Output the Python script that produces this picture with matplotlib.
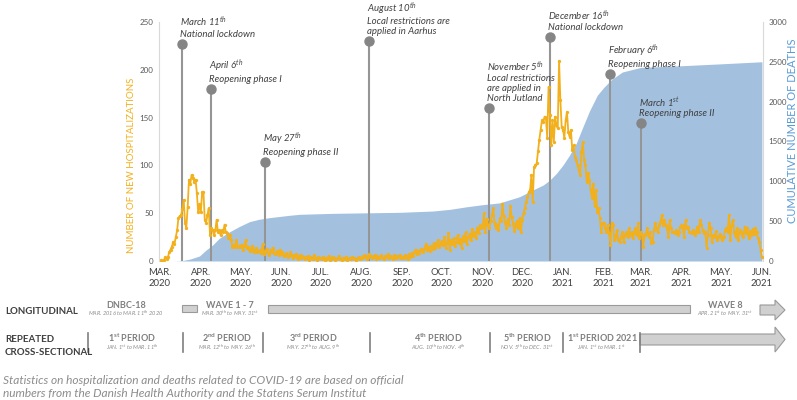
import matplotlib
matplotlib.use("Agg")
import matplotlib.pyplot as plt
import matplotlib.dates as mdates
import pandas as pd
from matplotlib.patches import Polygon, Rectangle
from matplotlib.lines import Line2D

plt.rcParams["font.family"] = ["Lato", "DejaVu Sans"]
plt.rcParams["mathtext.fontset"] = "custom"
plt.rcParams["mathtext.rm"] = "Lato"
plt.rcParams["mathtext.it"] = "Lato:italic"
plt.rcParams["mathtext.bf"] = "Lato:bold"

# daily new hospitalizations, one list per month
hosp_mar20 = [0, 1, 0, 1, 4, 2, 4, 9, 12, 15, 20, 18, 25, 32, 45, 47, 48, 54, 64, 40,
              35, 56, 85, 81, 90, 87, 83, 85, 71, 51, 60]
hosp_apr20 = [51, 72, 72, 43, 40, 48, 55, 27, 34, 32, 27, 32, 43, 30, 32, 27, 32, 30, 38, 30,
              29, 24, 27, 22, 15, 17, 15, 22, 15, 16]
hosp_may20 = [15, 17, 12, 16, 22, 14, 15, 10, 12, 16, 9, 11, 14, 9, 10, 12, 8, 18, 7, 10,
              13, 8, 6, 12, 9, 14, 7, 8, 10, 6, 12]
hosp_jun20 = [7, 9, 5, 6, 8, 4, 5, 9, 6, 3, 5, 7, 4, 2, 6, 3, 5, 4, 2, 3,
              5, 1, 4, 3, 2, 6, 3, 1, 4, 3]
hosp_jul20 = [3, 2, 4, 1, 3, 2, 5, 1, 2, 4, 3, 1, 2, 3, 5, 2, 1, 3, 2, 4,
              1, 2, 3, 2, 4, 3, 2, 1, 3, 4, 2]
hosp_aug20 = [3, 5, 4, 6, 2, 4, 7, 5, 3, 4, 6, 2, 5, 3, 4, 6, 3, 2, 5, 4,
              7, 3, 5, 4, 2, 6, 3, 5, 4, 6, 3]
hosp_sep20 = [4, 3, 6, 5, 2, 7, 4, 8, 5, 9, 12, 7, 10, 8, 13, 11, 9, 14, 18, 12,
              15, 10, 16, 13, 19, 14, 17, 22, 15, 18]
hosp_oct20 = [21, 17, 25, 14, 19, 29, 12, 22, 18, 24, 16, 20, 27, 19, 23, 14, 26, 21, 30, 18,
              25, 28, 22, 33, 26, 30, 24, 35, 29, 38, 34]
hosp_nov20 = [36, 50, 30, 44, 38, 35, 42, 48, 55, 40, 34, 38, 32, 45, 42, 60, 47, 40, 35, 44,
              38, 58, 46, 40, 31, 37, 42, 35, 45, 30]
hosp_dec20 = [43, 50, 55, 62, 67, 72, 74, 90, 62, 98, 100, 102, 115, 127, 137, 147, 145, 151, 150, 129,
              182, 153, 121, 147, 124, 151, 142, 139, 209, 168, 140]
hosp_jan21 = [137, 129, 147, 156, 135, 130, 137, 116, 121, 109, 106, 100, 95, 90, 114, 124, 106, 100, 83, 92,
              85, 74, 66, 81, 58, 74, 51, 55, 45, 30, 40]
hosp_feb21 = [40, 34, 30, 38, 29, 17, 40, 38, 22, 25, 32, 22, 20, 25, 30, 20, 27, 30, 25, 34,
              27, 30, 24, 29, 34, 27, 40, 24]
hosp_mar21 = [30, 27, 15, 27, 29, 34, 25, 30, 19, 20, 32, 40, 34, 30, 38, 41, 48, 38, 43, 38,
              34, 25, 43, 34, 30, 30, 29, 32, 27, 30, 36]
hosp_apr21 = [38, 34, 25, 43, 34, 36, 30, 30, 29, 32, 27, 30, 36, 30, 43, 38, 32, 29, 30, 14,
              27, 40, 34, 20, 27, 25, 31, 22, 25, 28]
hosp_may21 = [25, 22, 25, 32, 34, 30, 48, 22, 38, 43, 30, 25, 34, 22, 32, 30, 27, 25, 36, 29,
              34, 24, 31, 27, 33, 28, 35, 30, 24, 20, 12]
hosp_jun21 = [4]

# cumulative deaths
death_dates = ["2020-03-12", "2020-03-18", "2020-03-24", "2020-03-31", "2020-04-05", "2020-04-10",
               "2020-04-15", "2020-04-23", "2020-04-30", "2020-05-08", "2020-05-15", "2020-05-23",
               "2020-06-07", "2020-06-15", "2020-07-10", "2020-08-30", "2020-09-24", "2020-10-07",
               "2020-10-20", "2020-11-01", "2020-11-14", "2020-11-29", "2020-12-09", "2020-12-17",
               "2020-12-22", "2020-12-27", "2021-01-01", "2021-01-06", "2021-01-11", "2021-01-16",
               "2021-01-21", "2021-01-27", "2021-02-01", "2021-02-07", "2021-02-15", "2021-03-01",
               "2021-04-01", "2021-05-01", "2021-06-01"]
death_values = [0, 5, 25, 63, 138, 201, 285, 368, 431, 494, 523, 544,
                573, 586, 598, 611, 627, 648, 681, 707, 730, 807, 891, 954,
                1016, 1100, 1205, 1330, 1476, 1680, 1880, 2080, 2180, 2280, 2372, 2430,
                2451, 2475, 2501]

# events
event_dates = ["2020-03-18", "2020-04-09", "2020-05-20", "2020-08-07",
               "2020-11-06", "2020-12-22", "2021-02-06", "2021-03-01"]
event_heights = [227, 180, 104, 230, 160, 234, 196, 144]
event_labels = [
    "March 11$^{th}$\nNational lockdown",
    "April 6$^{th}$\nReopening phase I",
    "May 27$^{th}$\nReopening phase II",
    "August 10$^{th}$\nLocal restrictions are\napplied in Aarhus",
    "November 5$^{th}$\nLocal restrictions\nare applied in\nNorth Jutland",
    "December 16$^{th}$\nNational lockdown",
    "February 6$^{th}$\nReopening phase I",
    "March 1$^{st}$\nReopening phase II",
]

period_names = ["1$^{\\mathbf{st}}$ PERIOD", "2$^{\\mathbf{nd}}$ PERIOD", "3$^{\\mathbf{rd}}$ PERIOD",
                "4$^{\\mathbf{th}}$ PERIOD", "5$^{\\mathbf{th}}$ PERIOD", "1$^{\\mathbf{st}}$ PERIOD 2021"]
period_ranges = ["JAN. 1$^{st}$ to MAR. 11$^{th}$", "MAR. 12$^{th}$ to MAY. 26$^{th}$",
                 "MAY. 27$^{th}$ to AUG. 9$^{th}$", "AUG. 10$^{th}$ to NOV. 4$^{th}$",
                 "NOV. 5$^{th}$ to DEC. 31$^{st}$", "JAN. 1$^{st}$ to MAR. 1$^{st}$"]

ORANGE = "#F2B01C"
BLUE = "#A3C1DF"
W, H = 797, 400


def fx(x):
    return x / W


def fy(y):
    return 1 - y / H


hosp = (hosp_mar20 + hosp_apr20 + hosp_may20 + hosp_jun20 + hosp_jul20 + hosp_aug20 +
        hosp_sep20 + hosp_oct20 + hosp_nov20 + hosp_dec20 + hosp_jan21 + hosp_feb21 +
        hosp_mar21 + hosp_apr21 + hosp_may21 + hosp_jun21)
dates = pd.date_range("2020-03-01", periods=len(hosp), freq="D")

fig = plt.figure(figsize=(7.97, 4.0), dpi=100)
ax = fig.add_axes([fx(159), fy(261), (763 - 159) / W, (261 - 22) / H])
ax2 = ax.twinx()

ax2.fill_between(pd.to_datetime(death_dates), death_values, color=BLUE, lw=0)
ax2.set_ylim(0, 3000)
ax2.set_yticks(range(0, 3001, 500))

ax.set_zorder(ax2.get_zorder() + 1)
ax.patch.set_visible(False)

for d, h, lab in zip(pd.to_datetime(event_dates), event_heights, event_labels):
    ax.plot([d, d], [0, h], color="#959595", lw=1.5, zorder=1.5)
    ax.plot([d], [h], "o", color="#858585", ms=6.5, zorder=1.6)
    ax.annotate(lab, (d, h), xytext=(-1.5, 3.5), textcoords="offset points",
                ha="left", va="bottom", fontsize=6.9, style="italic",
                color="#404040", linespacing=1.12)

ax.plot(dates, hosp, color=ORANGE, lw=1.3, marker="o", ms=2.4, mew=0, zorder=2)
ax.set_ylim(0, 250)
ax.set_yticks(range(0, 251, 50))
ax.set_xlim(pd.Timestamp("2020-03-01") - pd.Timedelta(hours=18),
            pd.Timestamp("2021-06-01") + pd.Timedelta(hours=20))

ax.xaxis.set_major_locator(mdates.MonthLocator())
ax.xaxis.set_major_formatter(
    plt.FuncFormatter(lambda v, p: mdates.num2date(v).strftime("%b.\n%Y").upper()))

for a in (ax, ax2):
    for s in a.spines.values():
        s.set_visible(False)
ax.spines["left"].set_visible(True)
ax.spines["left"].set_color("#D9D9D9")
ax2.spines["right"].set_visible(True)
ax2.spines["right"].set_color("#D9D9D9")

ax.tick_params(axis="y", length=0, labelsize=5.8, labelcolor="#595959", pad=4)
ax2.tick_params(axis="y", length=0, labelsize=5.8, labelcolor="#595959", pad=4)
ax.tick_params(axis="x", length=0, labelsize=6.8, labelcolor="#404040", pad=5)
for t in ax.get_xticklabels():
    t.set_linespacing(1.25)

fig.text(fx(132), fy(165), "NUMBER OF NEW HOSPITALIZATIONS", rotation=90,
         ha="center", va="center", color=ORANGE, fontsize=7)
fig.text(fx(792), fy(131), "CUMULATIVE NUMBER OF DEATHS", rotation=90,
         ha="center", va="center", color="#5B9BD5", fontsize=8)

# bottom timeline of study designs
DARK = "#404040"
GREY = "#7F7F7F"
BAR = "#D0D0D0"
EDGE = "#9A9A9A"


def bar(x0, x1, y0, y1):
    fig.add_artist(Rectangle((fx(x0), fy(y1)), fx(x1) - fx(x0), fy(y0) - fy(y1),
                             transform=fig.transFigure, fc=BAR, ec=EDGE, lw=0.8))


def arrow(x0, xh, x1, ys0, ys1, yh0, yh1):
    ym = (yh0 + yh1) / 2
    pts = [(x0, ys0), (xh, ys0), (xh, yh0), (x1, ym), (xh, yh1), (xh, ys1), (x0, ys1)]
    fig.add_artist(Polygon([(fx(a), fy(b)) for a, b in pts], closed=True,
                           transform=fig.transFigure, fc=BAR, ec=EDGE, lw=0.8))


def label(x, y, title, sub):
    fig.text(fx(x), fy(y + 2.5), title, ha="center", va="baseline", fontsize=6.5,
             color=GREY, fontweight="bold")
    fig.text(fx(x), fy(y + 11.5), sub, ha="center", va="baseline", fontsize=4.1,
             color="#8C8C8C", style="italic")


fig.text(fx(5), fy(311), "LONGITUDINAL", ha="left", va="center", fontsize=7,
         fontweight="bold", color=DARK)
label(126, 305, "DNBC-18", "MAR. 2016 to MAR. 11$^{th}$ 2020")
bar(182, 197, 305, 312)
label(230, 305, "WAVE 1 - 7", "MAR. 30$^{th}$ to MAY. 31$^{st}$")
bar(268, 690, 305, 313)
label(725, 305, "WAVE 8", "APR. 21$^{st}$ to MAY. 31$^{st}$")
arrow(760, 775, 785, 305, 315, 300, 320)

fig.text(fx(5), fy(346), "REPEATED\nCROSS-SECTIONAL", ha="left", va="center", fontsize=7,
         fontweight="bold", color=DARK, linespacing=1.55)
for xs in [88, 183, 263, 370, 490, 563, 640]:
    fig.add_artist(Line2D([fx(xs), fx(xs)], [fy(333), fy(352)], transform=fig.transFigure,
                          color=GREY, lw=1.2))
for xc, name, rng in zip([132, 227, 313, 438, 527, 602], period_names, period_ranges):
    label(xc, 339, name, rng)
arrow(640, 775, 785, 334, 345, 327, 352)

fig.text(fx(3), fy(387), "Statistics on hospitalization and deaths related to COVID-19 are based on official\n"
         "numbers from the Danish Health Authority and the Statens Serum Institut",
         ha="left", va="center", fontsize=8.6, style="italic", color="#8C8C8C", linespacing=1.15)

fig.savefig("out.png", dpi=100)
